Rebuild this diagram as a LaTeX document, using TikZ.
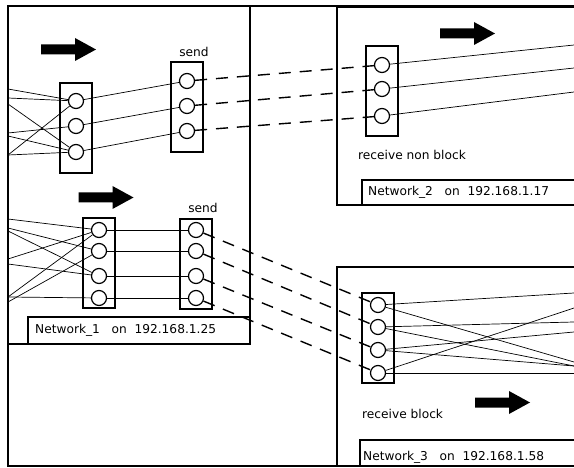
\documentclass[tikz,border=0pt]{standalone}
\usepackage{fontspec}
\setmainfont{DejaVu Sans}
\tikzset{
  frame/.style={draw=black, line width=1.4pt},
  holder/.style={draw=black, line width=1.3pt, minimum width=32pt, minimum height=90pt, inner sep=0pt},
  port/.style={circle, draw=black, line width=1.2pt, minimum size=15pt, inner sep=0pt, fill=white},
  wire/.style={draw=black, line width=0.7pt},
  link/.style={draw=black, line width=1.4pt, dash pattern=on 12pt off 9pt},
  lbl/.style={font=\fontsize{12.2}{14}\selectfont, inner sep=0pt},
  bigarrow/.pic={\fill[black] (-27.5,-5) -- (6.5,-5) -- (6.5,-11.5) -- (27.5,0) -- (6.5,11.5) -- (6.5,5) -- (-27.5,5) -- cycle;}
}
\begin{document}
\begin{tikzpicture}[x=1pt,y=-1pt]
\useasboundingbox (0,0) rectangle (574,468);
\clip (0,0) rectangle (574,468);
% outer frame
\draw[frame] (8,6) rectangle (590,466);
% Network_1
\draw[frame] (8,6) rectangle (250,344);
\draw[frame] (28,317) rectangle (250,344);
\node[lbl, anchor=west] (n1) at (35,330.5) {Network\_1\ \ \ on\ \ 192.168.1.25};
% Network_2
\draw[frame] (337,7) rectangle (590,205);
\draw[frame] (362,180) rectangle (590,205);
\node[lbl, anchor=west] (n2) at (368,192.5) {Network\_2\ \ \ on\ \ 192.168.1.17};
% Network_3
\draw[frame] (337,267) rectangle (590,466);
\draw[frame] (360,440) rectangle (590,466);
\node[lbl, anchor=west] (n3) at (363,457) {Network\_3\ \ \ on\ \ 192.168.1.58};

% arrows
\pic at (68.5,49.5) {bigarrow};
\pic at (106,197.5) {bigarrow};
\pic at (467.5,33.5) {bigarrow};
\pic at (502.5,402.5) {bigarrow};

% holders
\node[holder] (A) at (76,128) {};
\node[holder] (S) at (187,107) {};
\node[holder] (R) at (382,91) {};
\node[holder] (B) at (99,263) {};
\node[holder] (T) at (196,264) {};
\node[holder] (U) at (378,338) {};

% labels
\node[lbl] (sendA) at (194,52) {send};
\node[lbl] (sendB) at (203,208) {send};
\node[lbl, anchor=west] (rnb) at (358,155) {receive non block};
\node[lbl, anchor=west] (rb) at (362,414) {receive block};

% ports
\foreach \n/\y in {1/101,2/126,3/152} \node[port] (a\n) at (76,\y) {};
\foreach \n/\y in {1/81,2/106,3/131} \node[port] (s\n) at (187,\y) {};
\foreach \n/\y in {1/65,2/89,3/116} \node[port] (r\n) at (382,\y) {};
\foreach \n/\y in {1/230,2/251,3/276,4/298} \node[port] (b\n) at (99,\y) {};
\foreach \n/\y in {1/230,2/251,3/276,4/298} \node[port] (t\n) at (196,\y) {};
\foreach \n/\y in {1/305,2/327,3/350,4/373} \node[port] (u\n) at (378,\y) {};

% free ends at left edge (upper cluster)
\coordinate (la1) at (8,89);
\coordinate (la2) at (8,98);
\coordinate (la3) at (8,104);
\coordinate (la4) at (8,133);
\coordinate (la5) at (8,136);
\coordinate (la6) at (8,155);
\coordinate (la7) at (8,155);
\draw[wire] (la1) -- (a1);
\draw[wire] (la2) -- (a1);
\draw[wire] (la3) -- (a3);
\draw[wire] (la4) -- (a2);
\draw[wire] (la5) -- (a3);
\draw[wire] (la6) -- (a1);
\draw[wire] (la7) -- (a3);

% free ends at left edge (lower cluster)
\coordinate (lb1) at (8,219);
\coordinate (lb2) at (8,228);
\coordinate (lb3) at (8,231);
\coordinate (lb4) at (8,259);
\coordinate (lb5) at (8,264);
\coordinate (lb6) at (8,297);
\coordinate (lb7) at (8,297);
\coordinate (lb8) at (8,302);
\draw[wire] (lb1) -- (b1);
\draw[wire] (lb2) -- (b2);
\draw[wire] (lb3) -- (b3);
\draw[wire] (lb4) -- (b1);
\draw[wire] (lb5) -- (b3);
\draw[wire] (lb6) -- (b1);
\draw[wire] (lb7) -- (b4);
\draw[wire] (lb8) -- (b2);

% internal wires
\foreach \n in {1,2,3} \draw[wire] (a\n) -- (s\n);
\foreach \n in {1,2,3,4} \draw[wire] (b\n) -- (t\n);

% dashed links
\foreach \n in {1,2,3} \draw[link] (s\n) -- (r\n);
\foreach \n in {1,2,3,4} \draw[link] (t\n) -- (u\n);

% right free ends (Network_2)
\coordinate (rr1) at (574,45);
\coordinate (rr2) at (574,68);
\coordinate (rr3) at (574,92);
\foreach \n in {1,2,3} \draw[wire] (r\n) -- (rr\n);

% right free ends (Network_3)
\coordinate (ru1) at (574,293);
\coordinate (ru2) at (574,308);
\coordinate (ru3) at (574,322);
\coordinate (ru4) at (574,332);
\coordinate (ru5) at (574,362);
\coordinate (ru6) at (574,366);
\coordinate (ru7) at (574,373);
\draw[wire] (u1) -- (ru1);
\draw[wire] (u1) -- (ru5);
\draw[wire] (u2) -- (ru3);
\draw[wire] (u2) -- (ru6);
\draw[wire] (u3) -- (ru4);
\draw[wire] (u3) -- (ru6);
\draw[wire] (u4) -- (ru2);
\draw[wire] (u4) -- (ru7);
\end{tikzpicture}
\end{document}
